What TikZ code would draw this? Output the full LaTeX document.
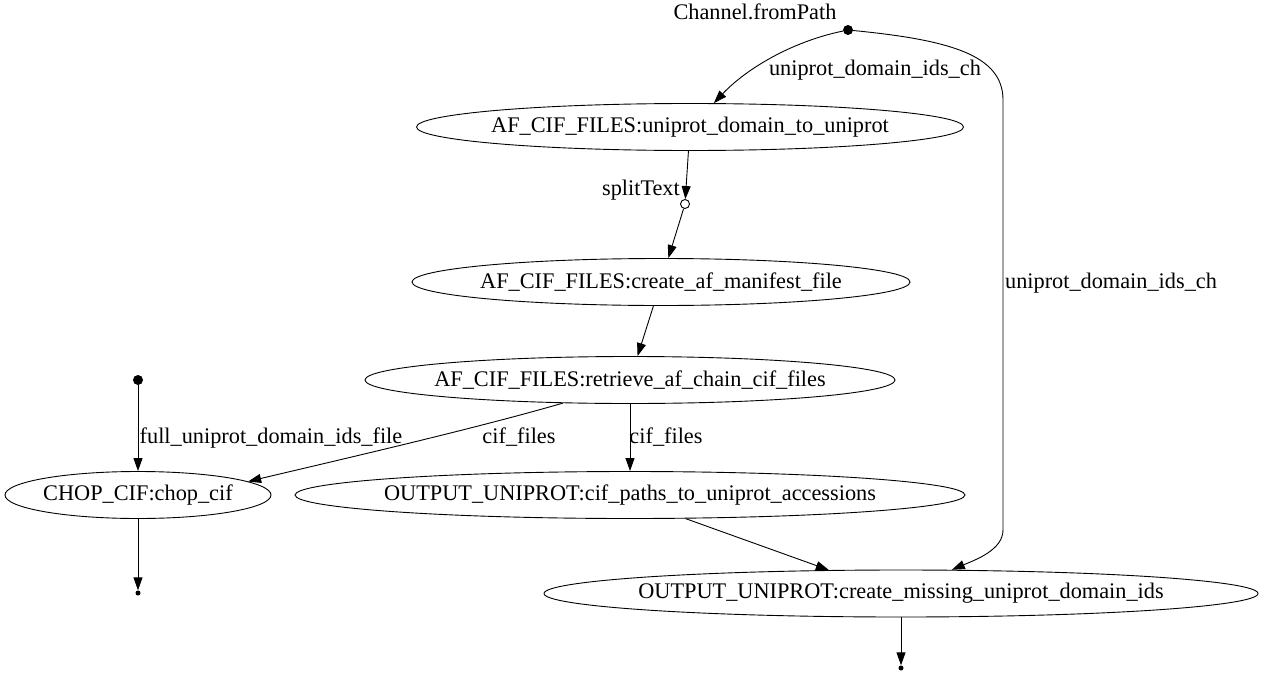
\documentclass[tikz,border=0pt]{standalone}
\usepackage{fontspec}
\setmainfont{Liberation Serif}
\usetikzlibrary{shapes.geometric,arrows.meta}
\begin{document}
\begin{tikzpicture}[x=1pt,y=-1pt,
  every node/.style={font=\fontsize{22.3}{26}\selectfont},
  proc/.style={draw, ellipse, inner ysep=0pt, inner xsep=-12pt, minimum height=47pt, line width=0.9pt},
  lab/.style={anchor=base, inner sep=0pt},
  src/.style={circle, fill=black, inner sep=0pt, minimum size=10pt},
  sink/.style={circle, fill=black, inner sep=0pt, minimum size=5pt},
  op/.style={circle, draw, fill=white, inner sep=0pt, minimum size=9pt, line width=0.9pt},
  conn/.style={line width=0.9pt, -{Triangle[length=13pt,width=9pt]}},
]
\useasboundingbox (0,0) rectangle (1265,677);
% nodes
\node[src] (fp) at (848,30) {};
\node[lab] (fplab) at (755,20) {Channel.fromPath};
\node[proc, minimum width=547pt] (n1) at (690,127) {AF\_CIF\_FILES:uniprot\_domain\_to\_uniprot};
\node[op] (st) at (685,204) {};
\node[lab, anchor=base east] (stlab) at (680,195) {splitText};
\node[proc, minimum width=498pt] (n2) at (661,282) {AF\_CIF\_FILES:create\_af\_manifest\_file};
\node[proc, minimum width=530pt] (n3) at (630,380) {AF\_CIF\_FILES:retrieve\_af\_chain\_cif\_files};
\node[src] (s2) at (138,380) {};
\node[proc, minimum width=266pt] (chop) at (138,495) {CHOP\_CIF:chop\_cif};
\node[proc, minimum width=670pt] (cp) at (630,495) {OUTPUT\_UNIPROT:cif\_paths\_to\_uniprot\_accessions};
\node[proc, minimum width=714pt] (cm) at (901,593.5) {OUTPUT\_UNIPROT:create\_missing\_uniprot\_domain\_ids};
\node[sink] (e1) at (138,593) {};
\node[sink] (e2) at (901,668) {};
% waypoints
\coordinate (w1) at (1003,100);
\coordinate (w2) at (1003,530);
% edges
\draw[conn] (fp) .. controls (790,42) and (745,70) .. (n1.45);
\node[lab] (l1) at (875,75) {uniprot\_domain\_ids\_ch};
\draw[line width=0.9pt] (fp) .. controls (950,40) and (1003,55) .. (w1) -- (w2);
\draw[conn] (w2) .. controls (1003,550) and (975,560) .. (cm.25);
\node[lab] (l2) at (1111,288) {uniprot\_domain\_ids\_ch};
\draw[conn] (n1) -- (st);
\draw[conn] (st) -- (n2);
\draw[conn] (n2) -- (n3);
\draw[conn] (s2) -- (chop);
\node[lab] (l3) at (271,443) {full\_uniprot\_domain\_ids\_file};
\draw[conn] (n3.199) .. controls (470,430) and (330,462) .. (chop.7.5);
\node[lab] (l4) at (519,443) {cif\_files};
\draw[conn] (n3.south) -- (cp.north);
\node[lab] (l5) at (666,443) {cif\_files};
\draw[conn] (cp.-23) -- (cm.162);
\draw[conn] (chop) -- (e1);
\draw[conn] (cm) -- (e2);
\end{tikzpicture}
\end{document}
